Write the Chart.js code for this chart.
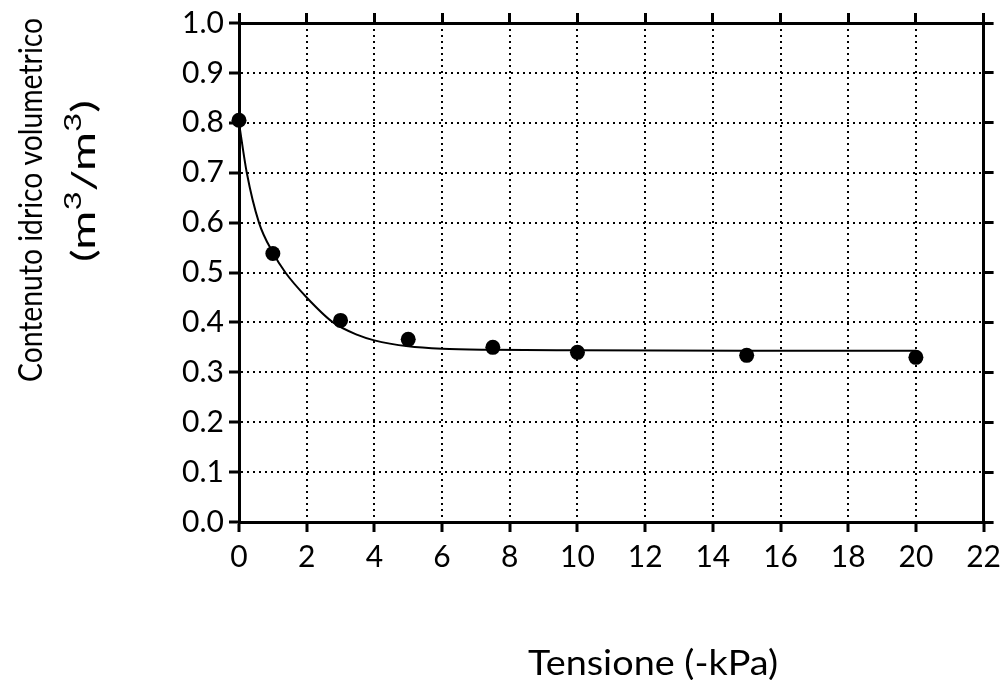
<!DOCTYPE html>
<html>
<head>
<meta charset="utf-8">
<script src="https://cdn.jsdelivr.net/npm/chart.js@4"></script>
<style>
  html, body { margin: 0; padding: 0; background: #fff; }
</style>
</head>
<body>
<canvas id="chart" width="1008" height="680"></canvas>
<script>
// measured points
const tensione = [0, 1, 3, 5, 7.5, 10, 15, 20];
const contenuto = [0.805, 0.538, 0.404, 0.366, 0.350, 0.340, 0.334, 0.330];

// fitted curve
const curveX = [0, 0.23, 0.59, 1, 1.37, 2, 2.78, 3.5, 4, 5, 6, 7.5, 10, 15, 20];
const curveY = [0.80, 0.70, 0.60, 0.54, 0.50, 0.45, 0.40, 0.375, 0.364, 0.352, 0.347, 0.345, 0.344, 0.343, 0.343];

// ticks
const xTicks = [0, 2, 4, 6, 8, 10, 12, 14, 16, 18, 20, 22];
const yTicks = [0, 0.1, 0.2, 0.3, 0.4, 0.5, 0.6, 0.7, 0.8, 0.9, 1.0];

const xTitle = 'Tensione (-kPa)';
const yTitle = 'Contenuto idrico volumetrico';

const FONT = 'Lato';

// draws pieces of text centred on (cx, base), squeezed/stretched to the given length
function drawTitle(ctx, parts, cx, base, rot, size, length) {
  const supSize = size * 0.7;
  let total = 0;
  parts.forEach(p => {
    ctx.font = (p[1] ? supSize : size) + 'px ' + FONT;
    total += ctx.measureText(p[0]).width;
  });
  ctx.save();
  ctx.translate(cx, base);
  ctx.rotate(rot);
  ctx.scale(length / total, 1);
  ctx.textAlign = 'left';
  ctx.textBaseline = 'alphabetic';
  let x = -total / 2;
  parts.forEach(p => {
    ctx.font = (p[1] ? supSize : size) + 'px ' + FONT;
    ctx.fillText(p[0], x, p[1] ? -size * 0.45 : 0);
    x += ctx.measureText(p[0]).width;
  });
  ctx.restore();
}

const axisTitles = {
  id: 'axisTitles',
  afterDraw(chart) {
    const ctx = chart.ctx;
    ctx.save();
    ctx.fillStyle = '#000';
    drawTitle(ctx, [[xTitle, false]], 653, 675, 0, 35, 250);
    drawTitle(ctx, [[yTitle, false]], 42, 200, -Math.PI / 2, 32, 364);
    drawTitle(ctx, [['(m', false], ['3', true], ['/m', false], ['3', true], [')', false]],
      95, 181, -Math.PI / 2, 32, 162);
    ctx.restore();
  }
};

const gridOpts = {
  color: '#000',
  lineWidth: 2,
  tickLength: 10,
  tickWidth: 3,
  tickColor: '#000'
};

const sideOpts = {
  color: '#000',
  drawOnChartArea: false,
  tickLength: 10,
  tickWidth: 3,
  tickColor: '#000'
};

new Chart(document.getElementById('chart'), {
  type: 'scatter',
  data: {
    datasets: [
      {
        data: tensione.map((x, i) => ({ x: x, y: contenuto[i] })),
        pointRadius: 7.5,
        pointBackgroundColor: '#000',
        pointBorderColor: '#000',
        pointBorderWidth: 0,
        showLine: false,
        clip: false
      },
      {
        data: curveX.map((x, i) => ({ x: x, y: curveY[i] })),
        showLine: true,
        borderColor: '#000',
        borderWidth: 2,
        pointRadius: 0,
        cubicInterpolationMode: 'monotone',
        fill: false
      }
    ]
  },
  options: {
    responsive: false,
    animation: false,
    layout: { padding: 0 },
    plugins: { legend: { display: false }, tooltip: { enabled: false } },
    scales: {
      x: {
        type: 'linear',
        position: 'bottom',
        min: 0,
        max: 22,
        afterBuildTicks: s => { s.ticks = xTicks.map(v => ({ value: v })); },
        afterFit: s => { s.height = 158; },
        ticks: { font: { family: FONT, size: 30 }, color: '#000', padding: 7, maxRotation: 0, autoSkip: false },
        grid: gridOpts,
        border: { color: '#000', width: 3, dash: [2, 4] }
      },
      x2: {
        type: 'linear',
        position: 'top',
        min: 0,
        max: 22,
        afterBuildTicks: s => { s.ticks = xTicks.map(v => ({ value: v })); },
        afterFit: s => { s.height = 23; },
        ticks: { display: false },
        grid: sideOpts,
        border: { color: '#000', width: 3 }
      },
      y: {
        type: 'linear',
        position: 'left',
        min: 0,
        max: 1,
        afterBuildTicks: s => { s.ticks = yTicks.map(v => ({ value: v })); },
        afterFit: s => { s.width = 239; },
        ticks: {
          font: { family: FONT, size: 30 },
          color: '#000',
          padding: 5,
          callback: v => v.toFixed(1)
        },
        grid: gridOpts,
        border: { color: '#000', width: 3, dash: [2, 4] }
      },
      y2: {
        type: 'linear',
        position: 'right',
        min: 0,
        max: 1,
        afterBuildTicks: s => { s.ticks = yTicks.map(v => ({ value: v })); },
        afterFit: s => { s.width = 18; },
        ticks: { display: false },
        grid: sideOpts,
        border: { color: '#000', width: 3 }
      }
    }
  },
  plugins: [axisTitles]
});
</script>
</body>
</html>
